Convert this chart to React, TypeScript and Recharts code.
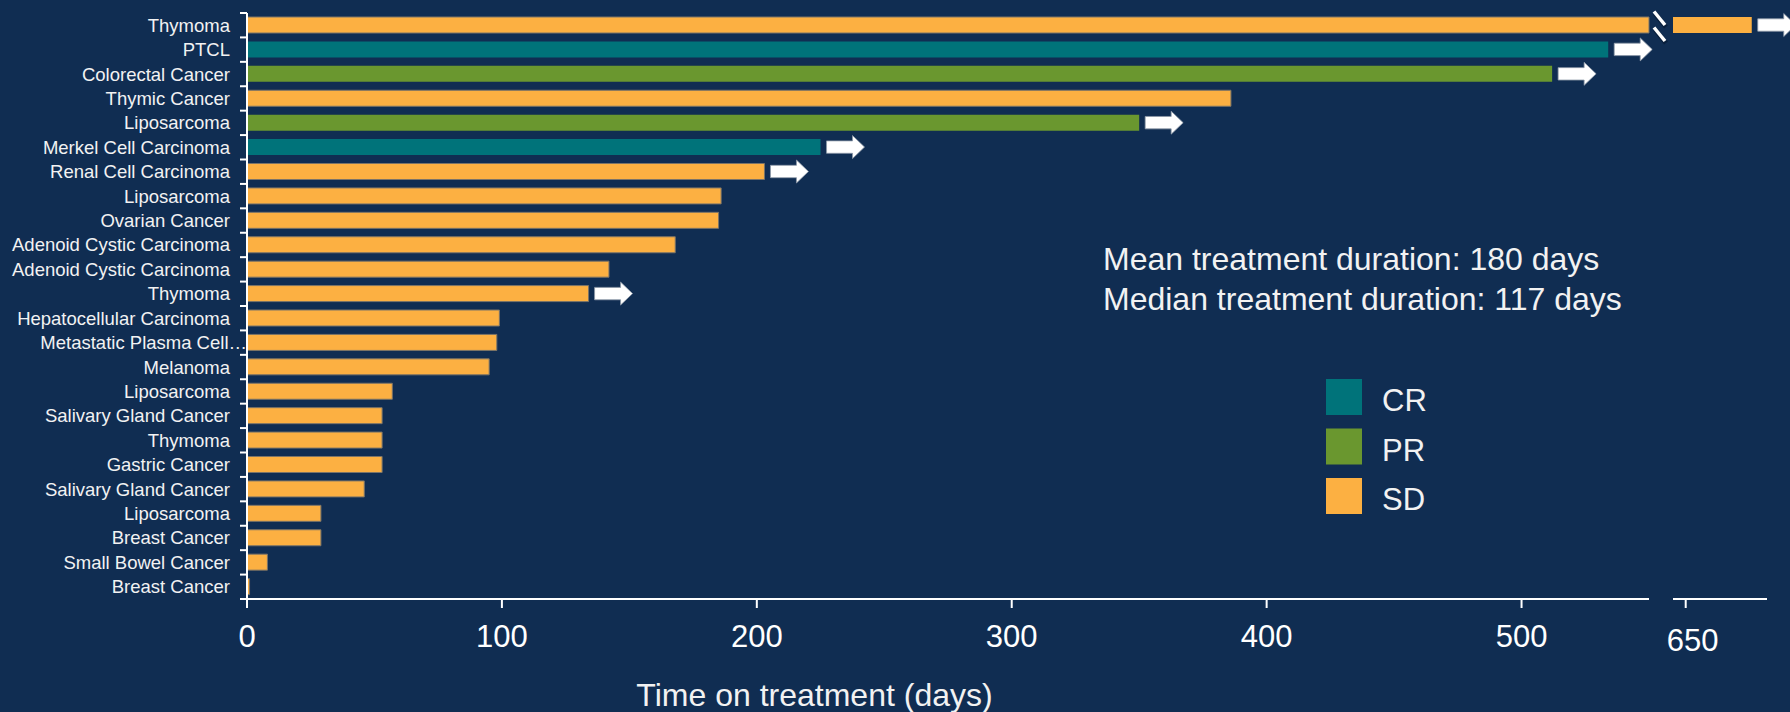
import React from 'react';
import { BarChart, Bar, XAxis, YAxis, Cell, LabelList } from 'recharts';

// ---------- data ----------
const cancerTypes: string[] = [
  'Thymoma', 'PTCL', 'Colorectal Cancer', 'Thymic Cancer', 'Liposarcoma',
  'Merkel Cell Carcinoma', 'Renal Cell Carcinoma', 'Liposarcoma', 'Ovarian Cancer',
  'Adenoid Cystic Carcinoma', 'Adenoid Cystic Carcinoma', 'Thymoma',
  'Hepatocellular Carcinoma', 'Metastatic Plasma Cell…', 'Melanoma', 'Liposarcoma',
  'Salivary Gland Cancer', 'Thymoma', 'Gastric Cancer', 'Salivary Gland Cancer',
  'Liposarcoma', 'Breast Cancer', 'Small Bowel Cancer', 'Breast Cancer',
];
const daysOnTreatment: number[] = [
  676, 534, 512, 386, 350, 225, 203, 186, 185, 168, 142, 134,
  99, 98, 95, 57, 53, 53, 53, 46, 29, 29, 8, 1,
];
const bestResponse: string[] = [
  'SD', 'CR', 'PR', 'SD', 'PR', 'CR', 'SD', 'SD', 'SD', 'SD', 'SD', 'SD',
  'SD', 'SD', 'SD', 'SD', 'SD', 'SD', 'SD', 'SD', 'SD', 'SD', 'SD', 'SD',
];
const ongoingTreatment: boolean[] = [
  true, true, true, false, true, true, true, false, false, false, false, true,
  false, false, false, false, false, false, false, false, false, false, false, false,
];
const mainTicks: number[] = [0, 100, 200, 300, 400, 500];
const mainDomainMax = 550;
const breakDomain: [number, number] = [645, 682];
const breakTicks: number[] = [650];
const legendItems = [
  { name: 'CR', color: '#00737A' },
  { name: 'PR', color: '#6A972F' },
  { name: 'SD', color: '#FCB042' },
];
const annotationLines: string[] = [
  'Mean treatment duration: 180 days',
  'Median treatment duration: 117 days',
];
const xAxisTitle = 'Time on treatment (days)';

const responseColor: Record<string, string> = {
  CR: '#00737A',
  PR: '#6A972F',
  SD: '#FCB042',
};

const rows = cancerTypes.map((name, i) => ({
  name,
  days: daysOnTreatment[i],
  response: bestResponse[i],
  ongoing: ongoingTreatment[i],
}));

// ---------- style ----------
const W = 1790;
const H = 712;
const BG = '#102D52';
const FONT = '"Liberation Sans", Arial, Helvetica, sans-serif';
const TEXT = '#F2F2F2';
const Y_TICK_SIZE = 7;
const Y_TICK_MARGIN = 10;
const ROW_FALLBACK = (599 - 13) / 24;

const mainValue = (d: any) => Math.min(d.days, mainDomainMax);
const breakValue = (d: any) => (d.days > mainDomainMax ? [breakDomain[0], d.days] : null);

const Arrow = ({ x, cy }: { x: number; cy: number }) => {
  const shaftLen = 26;
  const headLen = 12;
  const shaftH = 6.2;
  const headH = 11.5;
  const pts = [
    [x, cy - shaftH],
    [x + shaftLen, cy - shaftH],
    [x + shaftLen, cy - headH],
    [x + shaftLen + headLen, cy],
    [x + shaftLen, cy + headH],
    [x + shaftLen, cy + shaftH],
    [x, cy + shaftH],
  ]
    .map((p) => p.join(','))
    .join(' ');
  return <polygon points={pts} fill="#FFFFFF" stroke="#8E99A8" strokeWidth={0.8} />;
};

const getBox = (props: any) => {
  const vb = props.viewBox && typeof props.viewBox.x === 'number' ? props.viewBox : props;
  return { x: Number(vb.x), y: Number(vb.y), width: Number(vb.width), height: Number(vb.height) };
};

const MainLabel = (props: any) => {
  const { x, y, width, height } = getBox(props);
  const i = props.index;
  const row = rows[i];
  if (!row || !row.ongoing || row.days > mainDomainMax) return null;
  if (![x, y, width, height].every(Number.isFinite)) return null;
  return <Arrow x={x + width + 6} cy={y + height / 2} />;
};

const BreakLabel = (props: any) => {
  const { x, y, width, height } = getBox(props);
  const i = props.index;
  const row = rows[i];
  if (!row || row.days <= mainDomainMax) return null;
  if (![x, y, width, height].every(Number.isFinite) || width <= 0) return null;
  const cy = y + height / 2;
  const slash = (dy: number, key: string) => (
    <g key={key}>
      <line x1={x - 18} y1={cy + dy - 13.5 + 2} x2={x - 7} y2={cy + dy + 2} stroke="#061933" strokeOpacity={0.7} strokeWidth={5} />
      <line x1={x - 19} y1={cy + dy - 13.5} x2={x - 8} y2={cy + dy} stroke="#FFFFFF" strokeWidth={3.5} />
    </g>
  );
  return (
    <g>
      {slash(0, 'a')}
      {slash(16, 'b')}
      {row.ongoing ? <Arrow x={x + width + 6} cy={cy} /> : null}
    </g>
  );
};

const CategoryTick = (props: any) => {
  const { x, y, payload, index } = props;
  const half = payload && Number.isFinite(payload.offset) && payload.offset > 0 ? payload.offset : ROW_FALLBACK / 2;
  const axisX = x + Y_TICK_SIZE + Y_TICK_MARGIN;
  const label = String(payload?.value ?? '');
  const overflow = label.endsWith('…');
  return (
    <g>
      <line x1={axisX - Y_TICK_SIZE} x2={axisX} y1={y - half} y2={y - half} stroke="#FFFFFF" strokeWidth={2} />
      {index === rows.length - 1 ? (
        <line x1={axisX - Y_TICK_SIZE} x2={axisX} y1={y + half} y2={y + half} stroke="#FFFFFF" strokeWidth={2} />
      ) : null}
      <text
        x={overflow ? axisX : x}
        y={y}
        dy="0.35em"
        textAnchor="end"
        fill={TEXT}
        fontSize={18.5}
        fontFamily={FONT}
      >
        {label}
      </text>
    </g>
  );
};

const BreakTick = (props: any) => {
  const { x, y, payload } = props;
  return (
    <text x={x + 7} y={y} dy="0.71em" textAnchor="middle" fill="#FFFFFF" fontSize={31} fontFamily={FONT}>
      {payload?.value}
    </text>
  );
};

export default function App() {
  return (
    <div style={{ position: 'absolute', left: 0, top: 0, width: W, height: H, background: BG, overflow: 'hidden' }}>
      <div style={{ position: 'absolute', left: 0, top: 0 }}>
        <BarChart
          width={W}
          height={H}
          data={rows}
          layout="vertical"
          margin={{ top: 13, right: W - 1649, bottom: 0, left: 0 }}
          barSize={16}
        >
          <XAxis
            type="number"
            domain={[0, mainDomainMax]}
            ticks={mainTicks}
            height={113}
            axisLine={{ stroke: '#FFFFFF', strokeWidth: 2 }}
            tickLine={{ stroke: '#FFFFFF', strokeWidth: 2 }}
            tickSize={9}
            tickMargin={17}
            tick={{ fill: '#FFFFFF', fontSize: 31, fontFamily: FONT }}
          />
          <YAxis
            type="category"
            dataKey="name"
            width={247}
            interval={0}
            axisLine={{ stroke: '#FFFFFF', strokeWidth: 2 }}
            tickLine={false}
            tickSize={Y_TICK_SIZE}
            tickMargin={Y_TICK_MARGIN}
            tick={<CategoryTick />}
          />
          <Bar dataKey={mainValue} isAnimationActive={false}>
            {rows.map((r, i) => (
              <Cell
                key={`c-${i}`}
                fill={responseColor[r.response]}
                stroke={r.response === 'SD' ? '#7B7468' : 'none'}
                strokeWidth={r.response === 'SD' ? 1 : 0}
              />
            ))}
            <LabelList dataKey="ongoing" content={MainLabel} />
          </Bar>
        </BarChart>
      </div>
      <div style={{ position: 'absolute', left: 0, top: 0 }}>
        <BarChart
          width={W}
          height={H}
          data={rows}
          layout="vertical"
          margin={{ top: 13, right: W - 1767, bottom: 0, left: 1673 }}
          barSize={16}
        >
          <XAxis
            type="number"
            domain={breakDomain}
            ticks={breakTicks}
            height={113}
            axisLine={{ stroke: '#FFFFFF', strokeWidth: 2 }}
            tickLine={{ stroke: '#FFFFFF', strokeWidth: 2 }}
            tickSize={9}
            tickMargin={21}
            tick={<BreakTick />}
          />
          <YAxis type="category" dataKey="name" hide />
          <Bar dataKey={breakValue} isAnimationActive={false}>
            {rows.map((r, i) => (
              <Cell key={`b-${i}`} fill={responseColor[r.response]} />
            ))}
            <LabelList dataKey="ongoing" content={BreakLabel} />
          </Bar>
        </BarChart>
      </div>
      <svg
        width={W}
        height={H}
        style={{ position: 'absolute', left: 0, top: 0, pointerEvents: 'none' }}
        fontFamily={FONT}
      >
        {annotationLines.map((t, i) => (
          <text key={t} x={1103} y={270 + i * 40} fill={TEXT} fontSize={32}>
            {t}
          </text>
        ))}
        {legendItems.map((it, i) => (
          <g key={it.name}>
            <rect x={1326} y={379 + i * 49.5} width={36} height={36} fill={it.color} />
            <text x={1382} y={411 + i * 49.5} fill={TEXT} fontSize={31}>
              {it.name}
            </text>
          </g>
        ))}
        <text x={814.5} y={706} textAnchor="middle" fill={TEXT} fontSize={32}>
          {xAxisTitle}
        </text>
      </svg>
    </div>
  );
}
